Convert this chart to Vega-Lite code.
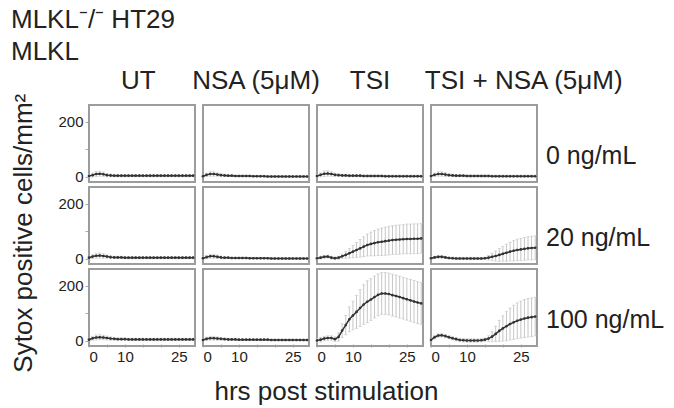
{
"$schema": "https://vega.github.io/schema/vega-lite/v6.json",
"padding": {"left": 10, "top": 7, "right": 0, "bottom": 0},
"title": {"text": ["MLKL⁻/⁻ HT29", "MLKL"], "anchor": "start", "frame": "bounds", "fontSize": 26, "fontWeight": "normal", "font": "Liberation Sans", "color": "#222", "lineHeight": 32, "offset": 3},
"data": {"values": [
{"t":"UT","c":"0 ng/mL","h":0,"m":2,"s":4},{"t":"UT","c":"0 ng/mL","h":1,"m":5,"s":7},{"t":"UT","c":"0 ng/mL","h":2,"m":9,"s":9},{"t":"UT","c":"0 ng/mL","h":3,"m":10,"s":9},{"t":"UT","c":"0 ng/mL","h":4,"m":8,"s":8},{"t":"UT","c":"0 ng/mL","h":5,"m":5,"s":6},{"t":"UT","c":"0 ng/mL","h":6,"m":4,"s":5},{"t":"UT","c":"0 ng/mL","h":7,"m":3,"s":4},{"t":"UT","c":"0 ng/mL","h":8,"m":3,"s":4},{"t":"UT","c":"0 ng/mL","h":9,"m":3,"s":4},{"t":"UT","c":"0 ng/mL","h":10,"m":3,"s":4},{"t":"UT","c":"0 ng/mL","h":11,"m":3,"s":4},{"t":"UT","c":"0 ng/mL","h":12,"m":3,"s":4},{"t":"UT","c":"0 ng/mL","h":13,"m":3,"s":4},{"t":"UT","c":"0 ng/mL","h":14,"m":3,"s":4},{"t":"UT","c":"0 ng/mL","h":15,"m":3,"s":4},{"t":"UT","c":"0 ng/mL","h":16,"m":3,"s":4},{"t":"UT","c":"0 ng/mL","h":17,"m":3,"s":4},{"t":"UT","c":"0 ng/mL","h":18,"m":3,"s":4},{"t":"UT","c":"0 ng/mL","h":19,"m":3,"s":4},{"t":"UT","c":"0 ng/mL","h":20,"m":3,"s":4},{"t":"UT","c":"0 ng/mL","h":21,"m":3,"s":4},{"t":"UT","c":"0 ng/mL","h":22,"m":3,"s":4},{"t":"UT","c":"0 ng/mL","h":23,"m":3,"s":4},{"t":"UT","c":"0 ng/mL","h":24,"m":3,"s":4},{"t":"UT","c":"0 ng/mL","h":25,"m":3,"s":4},{"t":"UT","c":"0 ng/mL","h":26,"m":3,"s":4},{"t":"UT","c":"0 ng/mL","h":27,"m":3,"s":4},{"t":"UT","c":"0 ng/mL","h":28,"m":3,"s":4},{"t":"UT","c":"0 ng/mL","h":29,"m":3,"s":4},
{"t":"NSA (5μM)","c":"0 ng/mL","h":0,"m":1,"s":3},{"t":"NSA (5μM)","c":"0 ng/mL","h":1,"m":6,"s":6},{"t":"NSA (5μM)","c":"0 ng/mL","h":2,"m":9,"s":8},{"t":"NSA (5μM)","c":"0 ng/mL","h":3,"m":9,"s":8},{"t":"NSA (5μM)","c":"0 ng/mL","h":4,"m":7,"s":6},{"t":"NSA (5μM)","c":"0 ng/mL","h":5,"m":5,"s":5},{"t":"NSA (5μM)","c":"0 ng/mL","h":6,"m":4,"s":4},{"t":"NSA (5μM)","c":"0 ng/mL","h":7,"m":3,"s":3},{"t":"NSA (5μM)","c":"0 ng/mL","h":8,"m":3,"s":3},{"t":"NSA (5μM)","c":"0 ng/mL","h":9,"m":2,"s":3},{"t":"NSA (5μM)","c":"0 ng/mL","h":10,"m":2,"s":3},{"t":"NSA (5μM)","c":"0 ng/mL","h":11,"m":2,"s":3},{"t":"NSA (5μM)","c":"0 ng/mL","h":12,"m":2,"s":3},{"t":"NSA (5μM)","c":"0 ng/mL","h":13,"m":2,"s":3},{"t":"NSA (5μM)","c":"0 ng/mL","h":14,"m":1,"s":3},{"t":"NSA (5μM)","c":"0 ng/mL","h":15,"m":1,"s":3},{"t":"NSA (5μM)","c":"0 ng/mL","h":16,"m":1,"s":3},{"t":"NSA (5μM)","c":"0 ng/mL","h":17,"m":1,"s":3},{"t":"NSA (5μM)","c":"0 ng/mL","h":18,"m":0,"s":3},{"t":"NSA (5μM)","c":"0 ng/mL","h":19,"m":0,"s":3},{"t":"NSA (5μM)","c":"0 ng/mL","h":20,"m":0,"s":3},{"t":"NSA (5μM)","c":"0 ng/mL","h":21,"m":0,"s":3},{"t":"NSA (5μM)","c":"0 ng/mL","h":22,"m":0,"s":3},{"t":"NSA (5μM)","c":"0 ng/mL","h":23,"m":0,"s":3},{"t":"NSA (5μM)","c":"0 ng/mL","h":24,"m":0,"s":3},{"t":"NSA (5μM)","c":"0 ng/mL","h":25,"m":0,"s":3},{"t":"NSA (5μM)","c":"0 ng/mL","h":26,"m":0,"s":3},{"t":"NSA (5μM)","c":"0 ng/mL","h":27,"m":0,"s":3},{"t":"NSA (5μM)","c":"0 ng/mL","h":28,"m":0,"s":3},{"t":"NSA (5μM)","c":"0 ng/mL","h":29,"m":0,"s":3},
{"t":"TSI","c":"0 ng/mL","h":0,"m":2,"s":4},{"t":"TSI","c":"0 ng/mL","h":1,"m":6,"s":7},{"t":"TSI","c":"0 ng/mL","h":2,"m":10,"s":10},{"t":"TSI","c":"0 ng/mL","h":3,"m":11,"s":10},{"t":"TSI","c":"0 ng/mL","h":4,"m":9,"s":8},{"t":"TSI","c":"0 ng/mL","h":5,"m":6,"s":6},{"t":"TSI","c":"0 ng/mL","h":6,"m":5,"s":5},{"t":"TSI","c":"0 ng/mL","h":7,"m":4,"s":4},{"t":"TSI","c":"0 ng/mL","h":8,"m":4,"s":4},{"t":"TSI","c":"0 ng/mL","h":9,"m":3,"s":4},{"t":"TSI","c":"0 ng/mL","h":10,"m":3,"s":4},{"t":"TSI","c":"0 ng/mL","h":11,"m":3,"s":4},{"t":"TSI","c":"0 ng/mL","h":12,"m":3,"s":4},{"t":"TSI","c":"0 ng/mL","h":13,"m":2,"s":4},{"t":"TSI","c":"0 ng/mL","h":14,"m":2,"s":4},{"t":"TSI","c":"0 ng/mL","h":15,"m":2,"s":4},{"t":"TSI","c":"0 ng/mL","h":16,"m":2,"s":4},{"t":"TSI","c":"0 ng/mL","h":17,"m":2,"s":4},{"t":"TSI","c":"0 ng/mL","h":18,"m":2,"s":4},{"t":"TSI","c":"0 ng/mL","h":19,"m":1,"s":4},{"t":"TSI","c":"0 ng/mL","h":20,"m":1,"s":4},{"t":"TSI","c":"0 ng/mL","h":21,"m":1,"s":4},{"t":"TSI","c":"0 ng/mL","h":22,"m":1,"s":4},{"t":"TSI","c":"0 ng/mL","h":23,"m":1,"s":4},{"t":"TSI","c":"0 ng/mL","h":24,"m":1,"s":4},{"t":"TSI","c":"0 ng/mL","h":25,"m":1,"s":4},{"t":"TSI","c":"0 ng/mL","h":26,"m":1,"s":4},{"t":"TSI","c":"0 ng/mL","h":27,"m":1,"s":4},{"t":"TSI","c":"0 ng/mL","h":28,"m":1,"s":4},{"t":"TSI","c":"0 ng/mL","h":29,"m":1,"s":4},
{"t":"TSI + NSA (5μM)","c":"0 ng/mL","h":0,"m":2,"s":4},{"t":"TSI + NSA (5μM)","c":"0 ng/mL","h":1,"m":6,"s":6},{"t":"TSI + NSA (5μM)","c":"0 ng/mL","h":2,"m":9,"s":8},{"t":"TSI + NSA (5μM)","c":"0 ng/mL","h":3,"m":9,"s":8},{"t":"TSI + NSA (5μM)","c":"0 ng/mL","h":4,"m":7,"s":7},{"t":"TSI + NSA (5μM)","c":"0 ng/mL","h":5,"m":5,"s":5},{"t":"TSI + NSA (5μM)","c":"0 ng/mL","h":6,"m":4,"s":4},{"t":"TSI + NSA (5μM)","c":"0 ng/mL","h":7,"m":3,"s":4},{"t":"TSI + NSA (5μM)","c":"0 ng/mL","h":8,"m":3,"s":4},{"t":"TSI + NSA (5μM)","c":"0 ng/mL","h":9,"m":3,"s":4},{"t":"TSI + NSA (5μM)","c":"0 ng/mL","h":10,"m":2,"s":4},{"t":"TSI + NSA (5μM)","c":"0 ng/mL","h":11,"m":2,"s":4},{"t":"TSI + NSA (5μM)","c":"0 ng/mL","h":12,"m":2,"s":4},{"t":"TSI + NSA (5μM)","c":"0 ng/mL","h":13,"m":2,"s":4},{"t":"TSI + NSA (5μM)","c":"0 ng/mL","h":14,"m":2,"s":4},{"t":"TSI + NSA (5μM)","c":"0 ng/mL","h":15,"m":2,"s":4},{"t":"TSI + NSA (5μM)","c":"0 ng/mL","h":16,"m":2,"s":4},{"t":"TSI + NSA (5μM)","c":"0 ng/mL","h":17,"m":1,"s":4},{"t":"TSI + NSA (5μM)","c":"0 ng/mL","h":18,"m":1,"s":4},{"t":"TSI + NSA (5μM)","c":"0 ng/mL","h":19,"m":1,"s":4},{"t":"TSI + NSA (5μM)","c":"0 ng/mL","h":20,"m":1,"s":4},{"t":"TSI + NSA (5μM)","c":"0 ng/mL","h":21,"m":1,"s":4},{"t":"TSI + NSA (5μM)","c":"0 ng/mL","h":22,"m":1,"s":4},{"t":"TSI + NSA (5μM)","c":"0 ng/mL","h":23,"m":1,"s":4},{"t":"TSI + NSA (5μM)","c":"0 ng/mL","h":24,"m":1,"s":4},{"t":"TSI + NSA (5μM)","c":"0 ng/mL","h":25,"m":1,"s":4},{"t":"TSI + NSA (5μM)","c":"0 ng/mL","h":26,"m":1,"s":4},{"t":"TSI + NSA (5μM)","c":"0 ng/mL","h":27,"m":1,"s":4},{"t":"TSI + NSA (5μM)","c":"0 ng/mL","h":28,"m":1,"s":4},{"t":"TSI + NSA (5μM)","c":"0 ng/mL","h":29,"m":1,"s":4},
{"t":"UT","c":"20 ng/mL","h":0,"m":3,"s":4},{"t":"UT","c":"20 ng/mL","h":1,"m":7,"s":7},{"t":"UT","c":"20 ng/mL","h":2,"m":10,"s":9},{"t":"UT","c":"20 ng/mL","h":3,"m":11,"s":9},{"t":"UT","c":"20 ng/mL","h":4,"m":9,"s":8},{"t":"UT","c":"20 ng/mL","h":5,"m":7,"s":6},{"t":"UT","c":"20 ng/mL","h":6,"m":5,"s":5},{"t":"UT","c":"20 ng/mL","h":7,"m":4,"s":4},{"t":"UT","c":"20 ng/mL","h":8,"m":4,"s":4},{"t":"UT","c":"20 ng/mL","h":9,"m":4,"s":4},{"t":"UT","c":"20 ng/mL","h":10,"m":3,"s":4},{"t":"UT","c":"20 ng/mL","h":11,"m":3,"s":4},{"t":"UT","c":"20 ng/mL","h":12,"m":3,"s":4},{"t":"UT","c":"20 ng/mL","h":13,"m":3,"s":4},{"t":"UT","c":"20 ng/mL","h":14,"m":3,"s":4},{"t":"UT","c":"20 ng/mL","h":15,"m":3,"s":4},{"t":"UT","c":"20 ng/mL","h":16,"m":3,"s":4},{"t":"UT","c":"20 ng/mL","h":17,"m":3,"s":4},{"t":"UT","c":"20 ng/mL","h":18,"m":3,"s":4},{"t":"UT","c":"20 ng/mL","h":19,"m":3,"s":4},{"t":"UT","c":"20 ng/mL","h":20,"m":3,"s":4},{"t":"UT","c":"20 ng/mL","h":21,"m":3,"s":4},{"t":"UT","c":"20 ng/mL","h":22,"m":3,"s":4},{"t":"UT","c":"20 ng/mL","h":23,"m":3,"s":4},{"t":"UT","c":"20 ng/mL","h":24,"m":3,"s":4},{"t":"UT","c":"20 ng/mL","h":25,"m":3,"s":4},{"t":"UT","c":"20 ng/mL","h":26,"m":3,"s":4},{"t":"UT","c":"20 ng/mL","h":27,"m":3,"s":4},{"t":"UT","c":"20 ng/mL","h":28,"m":3,"s":4},{"t":"UT","c":"20 ng/mL","h":29,"m":3,"s":4},
{"t":"NSA (5μM)","c":"20 ng/mL","h":0,"m":1,"s":3},{"t":"NSA (5μM)","c":"20 ng/mL","h":1,"m":5,"s":6},{"t":"NSA (5μM)","c":"20 ng/mL","h":2,"m":8,"s":7},{"t":"NSA (5μM)","c":"20 ng/mL","h":3,"m":8,"s":7},{"t":"NSA (5μM)","c":"20 ng/mL","h":4,"m":6,"s":6},{"t":"NSA (5μM)","c":"20 ng/mL","h":5,"m":4,"s":5},{"t":"NSA (5μM)","c":"20 ng/mL","h":6,"m":3,"s":4},{"t":"NSA (5μM)","c":"20 ng/mL","h":7,"m":3,"s":3},{"t":"NSA (5μM)","c":"20 ng/mL","h":8,"m":2,"s":3},{"t":"NSA (5μM)","c":"20 ng/mL","h":9,"m":2,"s":3},{"t":"NSA (5μM)","c":"20 ng/mL","h":10,"m":2,"s":3},{"t":"NSA (5μM)","c":"20 ng/mL","h":11,"m":2,"s":3},{"t":"NSA (5μM)","c":"20 ng/mL","h":12,"m":2,"s":3},{"t":"NSA (5μM)","c":"20 ng/mL","h":13,"m":1,"s":3},{"t":"NSA (5μM)","c":"20 ng/mL","h":14,"m":1,"s":3},{"t":"NSA (5μM)","c":"20 ng/mL","h":15,"m":1,"s":3},{"t":"NSA (5μM)","c":"20 ng/mL","h":16,"m":1,"s":3},{"t":"NSA (5μM)","c":"20 ng/mL","h":17,"m":1,"s":3},{"t":"NSA (5μM)","c":"20 ng/mL","h":18,"m":1,"s":3},{"t":"NSA (5μM)","c":"20 ng/mL","h":19,"m":0,"s":3},{"t":"NSA (5μM)","c":"20 ng/mL","h":20,"m":0,"s":3},{"t":"NSA (5μM)","c":"20 ng/mL","h":21,"m":0,"s":3},{"t":"NSA (5μM)","c":"20 ng/mL","h":22,"m":0,"s":3},{"t":"NSA (5μM)","c":"20 ng/mL","h":23,"m":0,"s":3},{"t":"NSA (5μM)","c":"20 ng/mL","h":24,"m":0,"s":3},{"t":"NSA (5μM)","c":"20 ng/mL","h":25,"m":0,"s":3},{"t":"NSA (5μM)","c":"20 ng/mL","h":26,"m":0,"s":3},{"t":"NSA (5μM)","c":"20 ng/mL","h":27,"m":0,"s":3},{"t":"NSA (5μM)","c":"20 ng/mL","h":28,"m":0,"s":3},{"t":"NSA (5μM)","c":"20 ng/mL","h":29,"m":0,"s":3},
{"t":"TSI","c":"20 ng/mL","h":0,"m":1,"s":5},{"t":"TSI","c":"20 ng/mL","h":1,"m":3,"s":5},{"t":"TSI","c":"20 ng/mL","h":2,"m":6,"s":5},{"t":"TSI","c":"20 ng/mL","h":3,"m":7,"s":5},{"t":"TSI","c":"20 ng/mL","h":4,"m":3,"s":5},{"t":"TSI","c":"20 ng/mL","h":5,"m":1,"s":5},{"t":"TSI","c":"20 ng/mL","h":6,"m":3,"s":5},{"t":"TSI","c":"20 ng/mL","h":7,"m":8,"s":8},{"t":"TSI","c":"20 ng/mL","h":8,"m":13,"s":12},{"t":"TSI","c":"20 ng/mL","h":9,"m":19,"s":17},{"t":"TSI","c":"20 ng/mL","h":10,"m":25,"s":22},{"t":"TSI","c":"20 ng/mL","h":11,"m":31,"s":27},{"t":"TSI","c":"20 ng/mL","h":12,"m":37,"s":32},{"t":"TSI","c":"20 ng/mL","h":13,"m":43,"s":36},{"t":"TSI","c":"20 ng/mL","h":14,"m":49,"s":40},{"t":"TSI","c":"20 ng/mL","h":15,"m":53,"s":43},{"t":"TSI","c":"20 ng/mL","h":16,"m":56,"s":46},{"t":"TSI","c":"20 ng/mL","h":17,"m":59,"s":48},{"t":"TSI","c":"20 ng/mL","h":18,"m":61,"s":50},{"t":"TSI","c":"20 ng/mL","h":19,"m":63,"s":51},{"t":"TSI","c":"20 ng/mL","h":20,"m":65,"s":52},{"t":"TSI","c":"20 ng/mL","h":21,"m":67,"s":52},{"t":"TSI","c":"20 ng/mL","h":22,"m":68,"s":53},{"t":"TSI","c":"20 ng/mL","h":23,"m":69,"s":53},{"t":"TSI","c":"20 ng/mL","h":24,"m":70,"s":53},{"t":"TSI","c":"20 ng/mL","h":25,"m":71,"s":54},{"t":"TSI","c":"20 ng/mL","h":26,"m":71,"s":54},{"t":"TSI","c":"20 ng/mL","h":27,"m":72,"s":54},{"t":"TSI","c":"20 ng/mL","h":28,"m":72,"s":54},{"t":"TSI","c":"20 ng/mL","h":29,"m":73,"s":54},
{"t":"TSI + NSA (5μM)","c":"20 ng/mL","h":0,"m":1,"s":4},{"t":"TSI + NSA (5μM)","c":"20 ng/mL","h":1,"m":4,"s":4},{"t":"TSI + NSA (5μM)","c":"20 ng/mL","h":2,"m":6,"s":5},{"t":"TSI + NSA (5μM)","c":"20 ng/mL","h":3,"m":6,"s":5},{"t":"TSI + NSA (5μM)","c":"20 ng/mL","h":4,"m":4,"s":4},{"t":"TSI + NSA (5μM)","c":"20 ng/mL","h":5,"m":2,"s":4},{"t":"TSI + NSA (5μM)","c":"20 ng/mL","h":6,"m":1,"s":4},{"t":"TSI + NSA (5μM)","c":"20 ng/mL","h":7,"m":0,"s":4},{"t":"TSI + NSA (5μM)","c":"20 ng/mL","h":8,"m":0,"s":4},{"t":"TSI + NSA (5μM)","c":"20 ng/mL","h":9,"m":0,"s":4},{"t":"TSI + NSA (5μM)","c":"20 ng/mL","h":10,"m":0,"s":4},{"t":"TSI + NSA (5μM)","c":"20 ng/mL","h":11,"m":0,"s":4},{"t":"TSI + NSA (5μM)","c":"20 ng/mL","h":12,"m":0,"s":4},{"t":"TSI + NSA (5μM)","c":"20 ng/mL","h":13,"m":0,"s":4},{"t":"TSI + NSA (5μM)","c":"20 ng/mL","h":14,"m":0,"s":4},{"t":"TSI + NSA (5μM)","c":"20 ng/mL","h":15,"m":1,"s":4},{"t":"TSI + NSA (5μM)","c":"20 ng/mL","h":16,"m":3,"s":8},{"t":"TSI + NSA (5μM)","c":"20 ng/mL","h":17,"m":6,"s":13},{"t":"TSI + NSA (5μM)","c":"20 ng/mL","h":18,"m":9,"s":18},{"t":"TSI + NSA (5μM)","c":"20 ng/mL","h":19,"m":13,"s":23},{"t":"TSI + NSA (5μM)","c":"20 ng/mL","h":20,"m":17,"s":27},{"t":"TSI + NSA (5μM)","c":"20 ng/mL","h":21,"m":21,"s":31},{"t":"TSI + NSA (5μM)","c":"20 ng/mL","h":22,"m":25,"s":34},{"t":"TSI + NSA (5μM)","c":"20 ng/mL","h":23,"m":28,"s":37},{"t":"TSI + NSA (5μM)","c":"20 ng/mL","h":24,"m":31,"s":39},{"t":"TSI + NSA (5μM)","c":"20 ng/mL","h":25,"m":33,"s":40},{"t":"TSI + NSA (5μM)","c":"20 ng/mL","h":26,"m":35,"s":41},{"t":"TSI + NSA (5μM)","c":"20 ng/mL","h":27,"m":37,"s":42},{"t":"TSI + NSA (5μM)","c":"20 ng/mL","h":28,"m":38,"s":43},{"t":"TSI + NSA (5μM)","c":"20 ng/mL","h":29,"m":39,"s":43},
{"t":"UT","c":"100 ng/mL","h":0,"m":3,"s":4},{"t":"UT","c":"100 ng/mL","h":1,"m":8,"s":7},{"t":"UT","c":"100 ng/mL","h":2,"m":11,"s":9},{"t":"UT","c":"100 ng/mL","h":3,"m":12,"s":9},{"t":"UT","c":"100 ng/mL","h":4,"m":11,"s":8},{"t":"UT","c":"100 ng/mL","h":5,"m":9,"s":7},{"t":"UT","c":"100 ng/mL","h":6,"m":7,"s":6},{"t":"UT","c":"100 ng/mL","h":7,"m":6,"s":5},{"t":"UT","c":"100 ng/mL","h":8,"m":5,"s":4},{"t":"UT","c":"100 ng/mL","h":9,"m":5,"s":4},{"t":"UT","c":"100 ng/mL","h":10,"m":5,"s":4},{"t":"UT","c":"100 ng/mL","h":11,"m":4,"s":4},{"t":"UT","c":"100 ng/mL","h":12,"m":4,"s":4},{"t":"UT","c":"100 ng/mL","h":13,"m":4,"s":4},{"t":"UT","c":"100 ng/mL","h":14,"m":4,"s":4},{"t":"UT","c":"100 ng/mL","h":15,"m":4,"s":4},{"t":"UT","c":"100 ng/mL","h":16,"m":4,"s":4},{"t":"UT","c":"100 ng/mL","h":17,"m":4,"s":4},{"t":"UT","c":"100 ng/mL","h":18,"m":4,"s":4},{"t":"UT","c":"100 ng/mL","h":19,"m":4,"s":4},{"t":"UT","c":"100 ng/mL","h":20,"m":4,"s":4},{"t":"UT","c":"100 ng/mL","h":21,"m":4,"s":4},{"t":"UT","c":"100 ng/mL","h":22,"m":4,"s":4},{"t":"UT","c":"100 ng/mL","h":23,"m":4,"s":4},{"t":"UT","c":"100 ng/mL","h":24,"m":4,"s":4},{"t":"UT","c":"100 ng/mL","h":25,"m":4,"s":4},{"t":"UT","c":"100 ng/mL","h":26,"m":4,"s":4},{"t":"UT","c":"100 ng/mL","h":27,"m":4,"s":4},{"t":"UT","c":"100 ng/mL","h":28,"m":4,"s":4},{"t":"UT","c":"100 ng/mL","h":29,"m":4,"s":4},
{"t":"NSA (5μM)","c":"100 ng/mL","h":0,"m":2,"s":3},{"t":"NSA (5μM)","c":"100 ng/mL","h":1,"m":6,"s":6},{"t":"NSA (5μM)","c":"100 ng/mL","h":2,"m":8,"s":7},{"t":"NSA (5μM)","c":"100 ng/mL","h":3,"m":8,"s":7},{"t":"NSA (5μM)","c":"100 ng/mL","h":4,"m":7,"s":6},{"t":"NSA (5μM)","c":"100 ng/mL","h":5,"m":6,"s":5},{"t":"NSA (5μM)","c":"100 ng/mL","h":6,"m":5,"s":4},{"t":"NSA (5μM)","c":"100 ng/mL","h":7,"m":4,"s":4},{"t":"NSA (5μM)","c":"100 ng/mL","h":8,"m":4,"s":3},{"t":"NSA (5μM)","c":"100 ng/mL","h":9,"m":4,"s":3},{"t":"NSA (5μM)","c":"100 ng/mL","h":10,"m":3,"s":3},{"t":"NSA (5μM)","c":"100 ng/mL","h":11,"m":3,"s":3},{"t":"NSA (5μM)","c":"100 ng/mL","h":12,"m":3,"s":3},{"t":"NSA (5μM)","c":"100 ng/mL","h":13,"m":3,"s":3},{"t":"NSA (5μM)","c":"100 ng/mL","h":14,"m":3,"s":3},{"t":"NSA (5μM)","c":"100 ng/mL","h":15,"m":3,"s":3},{"t":"NSA (5μM)","c":"100 ng/mL","h":16,"m":3,"s":3},{"t":"NSA (5μM)","c":"100 ng/mL","h":17,"m":3,"s":3},{"t":"NSA (5μM)","c":"100 ng/mL","h":18,"m":3,"s":3},{"t":"NSA (5μM)","c":"100 ng/mL","h":19,"m":2,"s":3},{"t":"NSA (5μM)","c":"100 ng/mL","h":20,"m":2,"s":3},{"t":"NSA (5μM)","c":"100 ng/mL","h":21,"m":2,"s":3},{"t":"NSA (5μM)","c":"100 ng/mL","h":22,"m":2,"s":3},{"t":"NSA (5μM)","c":"100 ng/mL","h":23,"m":2,"s":3},{"t":"NSA (5μM)","c":"100 ng/mL","h":24,"m":2,"s":3},{"t":"NSA (5μM)","c":"100 ng/mL","h":25,"m":2,"s":3},{"t":"NSA (5μM)","c":"100 ng/mL","h":26,"m":2,"s":3},{"t":"NSA (5μM)","c":"100 ng/mL","h":27,"m":2,"s":3},{"t":"NSA (5μM)","c":"100 ng/mL","h":28,"m":2,"s":3},{"t":"NSA (5μM)","c":"100 ng/mL","h":29,"m":2,"s":3},
{"t":"TSI","c":"100 ng/mL","h":0,"m":0,"s":8},{"t":"TSI","c":"100 ng/mL","h":1,"m":3,"s":8},{"t":"TSI","c":"100 ng/mL","h":2,"m":7,"s":8},{"t":"TSI","c":"100 ng/mL","h":3,"m":9,"s":8},{"t":"TSI","c":"100 ng/mL","h":4,"m":9,"s":8},{"t":"TSI","c":"100 ng/mL","h":5,"m":5,"s":8},{"t":"TSI","c":"100 ng/mL","h":6,"m":13,"s":15},{"t":"TSI","c":"100 ng/mL","h":7,"m":36,"s":25},{"t":"TSI","c":"100 ng/mL","h":8,"m":56,"s":35},{"t":"TSI","c":"100 ng/mL","h":9,"m":77,"s":45},{"t":"TSI","c":"100 ng/mL","h":10,"m":91,"s":52},{"t":"TSI","c":"100 ng/mL","h":11,"m":104,"s":60},{"t":"TSI","c":"100 ng/mL","h":12,"m":118,"s":67},{"t":"TSI","c":"100 ng/mL","h":13,"m":131,"s":72},{"t":"TSI","c":"100 ng/mL","h":14,"m":141,"s":76},{"t":"TSI","c":"100 ng/mL","h":15,"m":149,"s":76},{"t":"TSI","c":"100 ng/mL","h":16,"m":158,"s":76},{"t":"TSI","c":"100 ng/mL","h":17,"m":166,"s":76},{"t":"TSI","c":"100 ng/mL","h":18,"m":171,"s":76},{"t":"TSI","c":"100 ng/mL","h":19,"m":171,"s":76},{"t":"TSI","c":"100 ng/mL","h":20,"m":169,"s":76},{"t":"TSI","c":"100 ng/mL","h":21,"m":165,"s":76},{"t":"TSI","c":"100 ng/mL","h":22,"m":162,"s":76},{"t":"TSI","c":"100 ng/mL","h":23,"m":158,"s":76},{"t":"TSI","c":"100 ng/mL","h":24,"m":154,"s":76},{"t":"TSI","c":"100 ng/mL","h":25,"m":150,"s":76},{"t":"TSI","c":"100 ng/mL","h":26,"m":146,"s":76},{"t":"TSI","c":"100 ng/mL","h":27,"m":142,"s":76},{"t":"TSI","c":"100 ng/mL","h":28,"m":138,"s":76},{"t":"TSI","c":"100 ng/mL","h":29,"m":135,"s":76},
{"t":"TSI + NSA (5μM)","c":"100 ng/mL","h":0,"m":2,"s":6},{"t":"TSI + NSA (5μM)","c":"100 ng/mL","h":1,"m":12,"s":6},{"t":"TSI + NSA (5μM)","c":"100 ng/mL","h":2,"m":18,"s":6},{"t":"TSI + NSA (5μM)","c":"100 ng/mL","h":3,"m":19,"s":6},{"t":"TSI + NSA (5μM)","c":"100 ng/mL","h":4,"m":16,"s":6},{"t":"TSI + NSA (5μM)","c":"100 ng/mL","h":5,"m":12,"s":6},{"t":"TSI + NSA (5μM)","c":"100 ng/mL","h":6,"m":8,"s":6},{"t":"TSI + NSA (5μM)","c":"100 ng/mL","h":7,"m":5,"s":6},{"t":"TSI + NSA (5μM)","c":"100 ng/mL","h":8,"m":2,"s":6},{"t":"TSI + NSA (5μM)","c":"100 ng/mL","h":9,"m":1,"s":6},{"t":"TSI + NSA (5μM)","c":"100 ng/mL","h":10,"m":0,"s":6},{"t":"TSI + NSA (5μM)","c":"100 ng/mL","h":11,"m":0,"s":6},{"t":"TSI + NSA (5μM)","c":"100 ng/mL","h":12,"m":0,"s":6},{"t":"TSI + NSA (5μM)","c":"100 ng/mL","h":13,"m":0,"s":6},{"t":"TSI + NSA (5μM)","c":"100 ng/mL","h":14,"m":1,"s":6},{"t":"TSI + NSA (5μM)","c":"100 ng/mL","h":15,"m":3,"s":6},{"t":"TSI + NSA (5μM)","c":"100 ng/mL","h":16,"m":7,"s":10},{"t":"TSI + NSA (5μM)","c":"100 ng/mL","h":17,"m":14,"s":18},{"t":"TSI + NSA (5μM)","c":"100 ng/mL","h":18,"m":24,"s":28},{"t":"TSI + NSA (5μM)","c":"100 ng/mL","h":19,"m":35,"s":38},{"t":"TSI + NSA (5μM)","c":"100 ng/mL","h":20,"m":44,"s":46},{"t":"TSI + NSA (5μM)","c":"100 ng/mL","h":21,"m":52,"s":53},{"t":"TSI + NSA (5μM)","c":"100 ng/mL","h":22,"m":60,"s":58},{"t":"TSI + NSA (5μM)","c":"100 ng/mL","h":23,"m":66,"s":62},{"t":"TSI + NSA (5μM)","c":"100 ng/mL","h":24,"m":72,"s":65},{"t":"TSI + NSA (5μM)","c":"100 ng/mL","h":25,"m":76,"s":67},{"t":"TSI + NSA (5μM)","c":"100 ng/mL","h":26,"m":80,"s":69},{"t":"TSI + NSA (5μM)","c":"100 ng/mL","h":27,"m":83,"s":70},{"t":"TSI + NSA (5μM)","c":"100 ng/mL","h":28,"m":85,"s":70},{"t":"TSI + NSA (5μM)","c":"100 ng/mL","h":29,"m":87,"s":70}
]},
"facet": {
  "column": {"field": "t", "type": "nominal", "title": "\u200d\u00a0\u00a0\u00a0\u00a0hrs post stimulation", "sort": ["UT", "NSA (5μM)", "TSI", "TSI + NSA (5μM)"],
    "header": {"labelOrient": "top", "titleOrient": "bottom", "titleFontSize": 26, "titleFontWeight": "normal", "titleColor": "#222", "titlePadding": 5, "labelFontSize": 26, "labelColor": "#222", "labelPadding": 10, "labelExpr": "test(/\\+/, datum.value) ? ('\u200d\u00a0\u00a0\u00a0\u00a0\u00a0\u00a0\u00a0\u00a0\u00a0\u00a0\u00a0' + datum.value) : (datum.value == 'UT' ? (datum.value + '\u00a0\u200d') : datum.value)"}},
  "row": {"field": "c", "type": "nominal", "title": "Sytox positive cells/mm²\u00a0\u00a0\u200d", "sort": ["0 ng/mL", "20 ng/mL", "100 ng/mL"],
    "header": {"labelOrient": "right", "titleOrient": "left", "titleFontSize": 26, "titleFontWeight": "normal", "titleColor": "#222", "titlePadding": 10, "labelAngle": 0, "labelAlign": "right", "labelBaseline": "top", "labelFontSize": 25, "labelColor": "#222", "labelPadding": 6}}
},
"spacing": {"column": 1, "row": 3},
"spec": {
  "width": 106, "height": 77,
  "encoding": {
    "x": {"field": "h", "type": "quantitative", "scale": {"domain": [0, 29.5], "nice": false},
      "axis": {"title": null, "values": [0, 5, 10, 15, 20, 25], "labelExpr": "datum.value == 0 || datum.value == 10 || datum.value == 25 ? datum.label : ''"}},
    "y": {"field": "m", "type": "quantitative", "scale": {"domain": [-20, 260], "nice": false},
      "axis": {"title": null, "values": [0, 100, 200], "labelExpr": "datum.value == 100 ? '' : datum.label"}}
  },
  "layer": [
    {"mark": {"type": "errorbar", "color": "#c6c6c6", "thickness": 1, "ticks": {"size": 3, "color": "#c6c6c6"}},
     "encoding": {"yError": {"field": "s"}}},
    {"mark": {"type": "line", "color": "#333", "strokeWidth": 1.5, "point": {"filled": true, "size": 7, "color": "#333"}}}
  ]
},
"config": {
  "font": "Liberation Sans",
  "view": {"stroke": "#9c9c9c", "strokeWidth": 2},
  "axis": {"grid": false, "domain": false, "labelFontSize": 15, "labelColor": "#222", "tickColor": "#aaa", "tickSize": -3, "labelPadding": 5}
}
}
